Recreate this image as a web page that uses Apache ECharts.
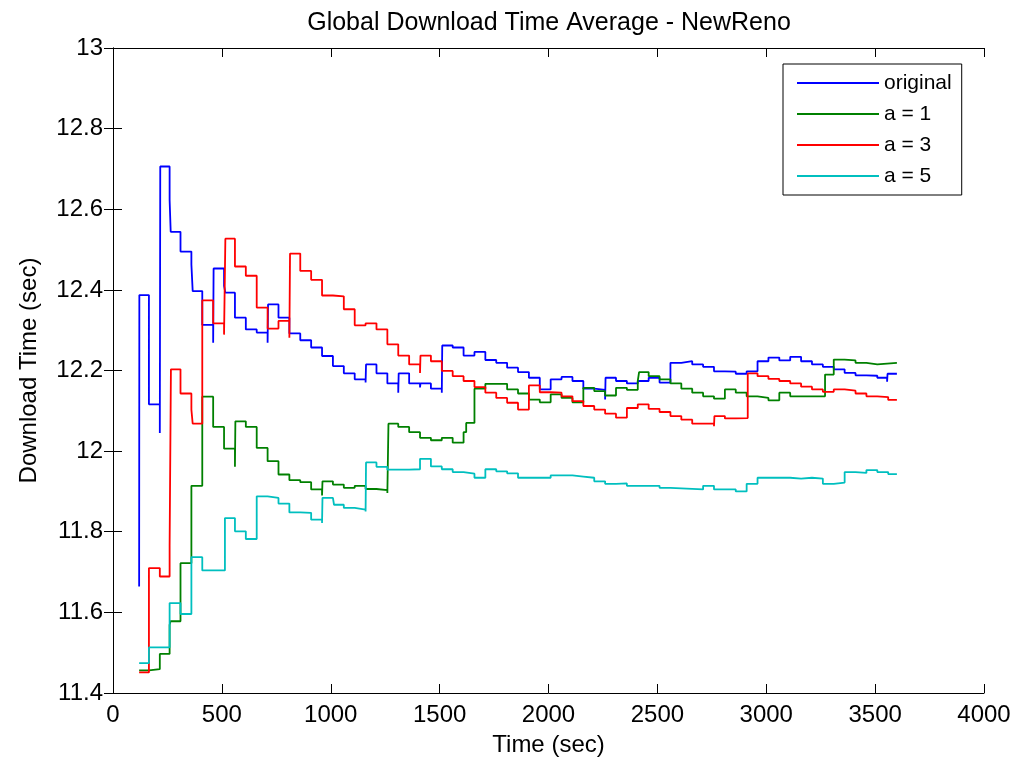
<!DOCTYPE html>
<html>
<head>
<meta charset="utf-8">
<script src="https://cdn.jsdelivr.net/npm/echarts@6/dist/echarts.min.js"></script>
<style>
  html, body { margin: 0; padding: 0; background: #fff; }
  #chart { width: 1015px; height: 765px; }
</style>
</head>
<body>
<div id="chart"></div>
<script>
// [time (sec), download time (sec)] -- step values
const original = [
  [120,11.664],[121,12.387],[165,12.116],[215,12.045],[217,12.706],[260,12.623],[265,12.544],
  [310,12.495],[360,12.463],[366,12.397],[410,12.313],[460,12.269],[462,12.453],[510,12.41],
  [516,12.393],[560,12.331],[610,12.302],[660,12.294],[710,12.269],[712,12.364],[760,12.331],
  [810,12.292],[860,12.275],[910,12.257],[960,12.236],[1010,12.211],[1060,12.193],[1110,12.178],
  [1160,12.17],[1162,12.215],[1210,12.193],[1260,12.168],[1310,12.145],[1312,12.193],[1360,12.168],
  [1410,12.158],[1412,12.168],[1460,12.155],[1510,12.145],[1512,12.262],[1560,12.257],[1610,12.237],
  [1660,12.246],[1710,12.226],[1760,12.219],[1810,12.207],[1860,12.196],[1910,12.182],[1960,12.153],
  [2010,12.178],[2060,12.184],[2110,12.174],[2160,12.155],[2210,12.152],[2260,12.128],[2262,12.182],
  [2310,12.174],[2360,12.168],[2410,12.174],[2460,12.182],[2510,12.17],[2560,12.219],[2610,12.223],
  [2660,12.215],[2710,12.209],[2760,12.198],[2810,12.197],[2860,12.192],[2910,12.198],[2960,12.223],
  [3010,12.232],[3060,12.225],[3110,12.234],[3160,12.223],[3210,12.215],[3260,12.209],[3310,12.203],
  [3360,12.194],[3410,12.188],[3460,12.187],[3510,12.182],[3555,12.172],[3557,12.192],[3600,12.192]
];
const a1 = [
  [120,11.456],[165,11.459],[215,11.497],[260,11.569],[264,11.578],[310,11.722],[360,11.914],
  [410,12.135],[460,12.06],[510,12.006],[560,11.961],[562,12.074],[610,12.06],[660,12.008],
  [710,11.975],[760,11.942],[810,11.928],[860,11.923],[910,11.905],[960,11.89],[962,11.925],
  [1010,11.917],[1060,11.909],[1110,11.914],[1160,11.906],[1210,11.903],[1260,11.896],[1265,12.068],
  [1310,12.06],[1360,12.047],[1410,12.033],[1460,12.027],[1510,12.033],[1560,12.021],[1610,12.047],
  [1622,12.07],[1660,12.155],[1710,12.167],[1810,12.153],[1860,12.143],[1910,12.128],[1960,12.121],
  [2010,12.141],[2060,12.132],[2110,12.121],[2160,12.157],[2210,12.149],[2260,12.138],[2310,12.157],
  [2360,12.152],[2410,12.174],[2416,12.196],[2460,12.186],[2510,12.178],[2560,12.168],[2610,12.155],
  [2660,12.145],[2710,12.136],[2760,12.13],[2810,12.153],[2860,12.145],[2910,12.136],[2960,12.132],
  [3010,12.126],[3060,12.145],[3110,12.136],[3270,12.19],[3310,12.227],[3360,12.225],[3410,12.219],
  [3460,12.215],[3510,12.219],[3600,12.219]
];
const a3 = [
  [120,11.451],[165,11.71],[215,11.689],[260,11.765],[266,12.203],[310,12.143],[360,12.103],
  [366,12.068],[410,12.374],[460,12.317],[510,12.289],[516,12.527],[560,12.458],[610,12.435],
  [660,12.356],[710,12.304],[760,12.323],[810,12.281],[813,12.49],[860,12.447],[910,12.425],
  [960,12.386],[1010,12.384],[1060,12.352],[1110,12.312],[1160,12.317],[1210,12.302],[1260,12.265],
  [1310,12.237],[1360,12.215],[1410,12.194],[1412,12.237],[1460,12.223],[1510,12.199],[1560,12.186],
  [1610,12.174],[1660,12.159],[1710,12.145],[1760,12.132],[1810,12.12],[1860,12.103],[1910,12.163],
  [1960,12.146],[2010,12.145],[2060,12.136],[2110,12.124],[2160,12.112],[2210,12.103],[2260,12.093],
  [2310,12.083],[2360,12.107],[2410,12.116],[2460,12.105],[2510,12.097],[2560,12.087],[2610,12.078],
  [2660,12.068],[2760,12.062],[2762,12.087],[2810,12.081],[2860,12.082],[2915,12.193],[2960,12.186],
  [3010,12.179],[3060,12.174],[3110,12.168],[3160,12.16],[3210,12.153],[3260,12.147],[3310,12.153],
  [3360,12.15],[3410,12.143],[3460,12.136],[3510,12.134],[3560,12.127],[3600,12.127]
];
const a5 = [
  [120,11.474],[165,11.513],[260,11.623],[310,11.596],[360,11.737],[410,11.704],[514,11.834],
  [560,11.801],[610,11.782],[660,11.888],[710,11.884],[760,11.87],[810,11.848],[860,11.847],
  [910,11.83],[960,11.822],[962,11.884],[1010,11.88],[1015,11.867],[1060,11.859],[1110,11.855],
  [1160,11.85],[1162,11.972],[1210,11.961],[1260,11.954],[1360,11.955],[1410,11.981],[1460,11.962],
  [1510,11.955],[1560,11.948],[1610,11.944],[1660,11.934],[1710,11.955],[1760,11.95],[1810,11.945],
  [1860,11.934],[2010,11.94],[2110,11.937],[2160,11.934],[2210,11.925],[2260,11.919],[2310,11.92],
  [2360,11.914],[2510,11.909],[2560,11.905],[2710,11.914],[2760,11.905],[2860,11.9],[2910,11.919],
  [2960,11.934],[3110,11.932],[3160,11.934],[3210,11.932],[3260,11.919],[3310,11.922],[3360,11.948],
  [3410,11.946],[3460,11.953],[3510,11.948],[3560,11.943],[3600,11.943]
];

const seriesNames = ['original', 'a = 1', 'a = 3', 'a = 5'];
const seriesColors = ['#0000ff', '#008000', '#ff0000', '#00bfbf'];
const seriesData = [original, a1, a3, a5];

const font = 'Liberation Sans, Arial, sans-serif';

const chart = echarts.init(document.getElementById('chart'));

const hiddenAxis = {
  axisLine: { show: true, lineStyle: { color: '#000', width: 1 } },
  axisTick: { show: true, inside: true, length: 9, lineStyle: { color: '#000' } },
  axisLabel: { show: false },
  splitLine: { show: false }
};

chart.setOption({
  animation: false,
  backgroundColor: '#fff',
  title: {
    text: 'Global Download Time Average - NewReno',
    left: 544,
    top: 6,
    textAlign: 'center',
    textStyle: { fontFamily: font, fontSize: 25, fontWeight: 'normal', color: '#000' }
  },
  grid: { left: 113, right: 31, top: 48, bottom: 72 },
  legend: {
    orient: 'vertical',
    left: 783,
    top: 64,
    backgroundColor: '#fff',
    borderColor: '#000',
    borderWidth: 1,
    borderRadius: 0,
    padding: [8, 10, 8, 14],
    icon: 'rect',
    itemWidth: 82,
    itemHeight: 2,
    itemGap: 9,
    textStyle: { fontFamily: font, fontSize: 21, color: '#000', lineHeight: 22 },
    data: seriesNames
  },
  xAxis: [
    {
      type: 'value', min: 0, max: 4000, interval: 500,
      name: 'Time (sec)', nameLocation: 'middle', nameGap: 40,
      nameTextStyle: { fontFamily: font, fontSize: 24, color: '#000' },
      axisLine: { show: true, onZero: false, lineStyle: { color: '#000', width: 1 } },
      axisTick: { show: true, inside: true, length: 9, lineStyle: { color: '#000' } },
      axisLabel: { fontFamily: font, fontSize: 24, color: '#000', margin: 10, formatter: v => String(v) },
      splitLine: { show: false }
    },
    Object.assign({ type: 'value', position: 'top', min: 0, max: 4000, interval: 500 }, hiddenAxis)
  ],
  yAxis: [
    {
      type: 'value', min: 11.4, max: 13, interval: 0.2,
      name: 'Download Time (sec)', nameLocation: 'middle', nameGap: 72,
      nameTextStyle: { fontFamily: font, fontSize: 24, color: '#000' },
      axisLine: { show: true, lineStyle: { color: '#000', width: 1 } },
      axisTick: { show: true, inside: true, length: 9, lineStyle: { color: '#000' } },
      axisLabel: {
        fontFamily: font, fontSize: 24, color: '#000', margin: 10,
        formatter: v => String(+v.toFixed(1))
      },
      splitLine: { show: false }
    },
    Object.assign({ type: 'value', position: 'right', min: 11.4, max: 13, interval: 0.2 }, hiddenAxis)
  ],
  series: seriesData.map((d, i) => ({
    name: seriesNames[i],
    type: 'line',
    step: 'end',
    data: d,
    symbol: 'none',
    color: seriesColors[i],
    lineStyle: { color: seriesColors[i], width: 1.8 }
  }))
});
</script>
</body>
</html>
